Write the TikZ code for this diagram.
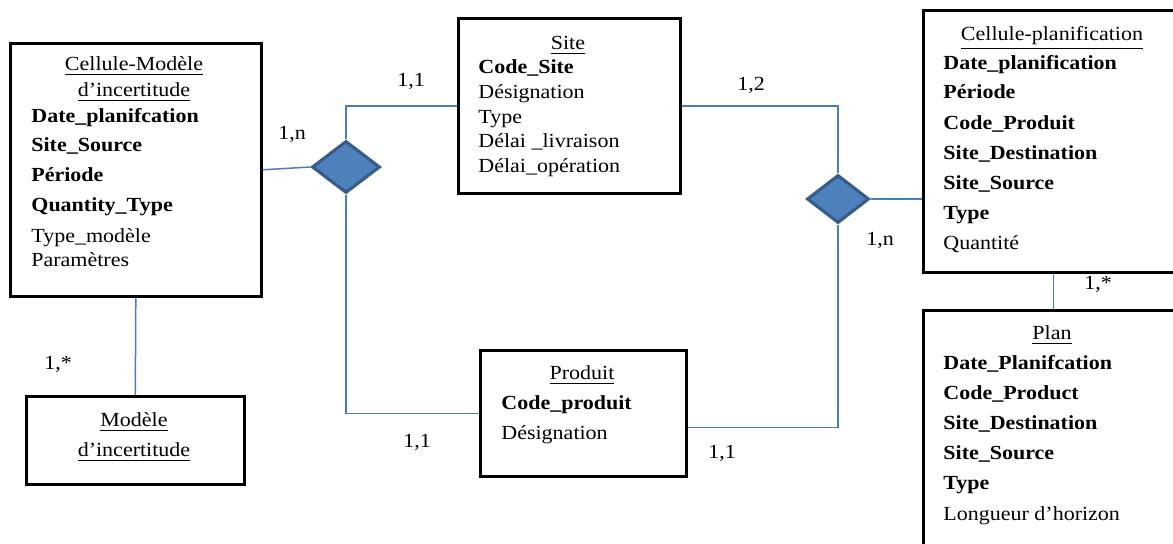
\documentclass[tikz,border=0pt]{standalone}
\usepackage{fontspec}
\setmainfont{Liberation Serif}[FakeStretch=1.1]
\usetikzlibrary{shapes.geometric}
\definecolor{conn}{HTML}{4A7EBB}
\definecolor{dfill}{HTML}{4F81BD}
\definecolor{dline}{HTML}{385D8A}
\tikzset{
  ent/.style={draw=black, line width=1.3pt, rectangle, inner sep=0pt, anchor=north west},
  rel/.style={diamond, draw=dline, fill=dfill, line width=1.6pt, inner sep=0pt},
  lnk/.style={draw=conn, line width=0.75pt},
  txt/.style={inner sep=0pt, anchor=base west, font=\fontsize{10}{12}\selectfont},
  ttl/.style={inner sep=0pt, anchor=base, font=\fontsize{10}{12}\selectfont},
  card/.style={inner sep=0pt, anchor=base, font=\fontsize{10}{12}\selectfont},
}
\begin{document}
\begin{tikzpicture}[x={(0.5pt,0)}, y={(0,-0.5pt)}]
\useasboundingbox (0,0) rectangle (1173,544);
\clip (0,0) rectangle (1173,544);
% entities
\node[ent, minimum width=125.5pt, minimum height=126.5pt] (cm) at (9,42) {};
\node[ent, minimum width=111pt, minimum height=87.5pt] (site) at (457,17) {};
\node[ent, minimum width=130pt, minimum height=131pt] (cp) at (922,9) {};
\node[ent, minimum width=130pt, minimum height=130pt] (plan) at (922,309) {};
\node[ent, minimum width=109pt, minimum height=44pt] (mod) at (25,395) {};
\node[ent, minimum width=103pt, minimum height=63pt] (prod) at (479,349) {};
% relations
\node[rel, minimum width=34pt, minimum height=26pt] (d1) at (346,167) {};
\node[rel, minimum width=31pt, minimum height=24pt] (d2) at (838,199) {};
% connectors
\draw[lnk] (cm.east) -- (d1.west);
\draw[lnk] (d1.north) |- (site.west);
\draw[lnk] (d1.south) |- (prod.west);
\draw[lnk] (site.east) -| (d2.north);
\draw[lnk] (d2.east) -- (d2.east -| cp.west);
\draw[lnk] (d2.south) |- ([yshift=-7pt]prod.east);
\draw[lnk] (cm.south) -- (mod.north);
\draw[lnk] (cp.south) -- (plan.north);
% Cellule-Modele d'incertitude
\node[ttl] (cmt1) at (134,71) {\underline{Cellule-Modèle}};
\node[ttl] (cmt2) at (134,97) {\underline{d’incertitude}};
\node[txt] (cma1) at (31,123) {\textbf{Date\_planifcation}};
\node[txt] (cma2) at (31,152) {\textbf{Site\_Source}};
\node[txt] (cma3) at (31,182) {\textbf{Période}};
\node[txt] (cma4) at (31,212) {\textbf{Quantity\_Type}};
\node[txt] (cma5) at (31,243) {Type\_modèle};
\node[txt] (cma6) at (31,267) {Paramètres};
% Site
\node[ttl] (st) at (568,50) {\underline{Site}};
\node[txt] (sa1) at (478,74) {\textbf{Code\_Site}};
\node[txt] (sa2) at (478,99) {Désignation};
\node[txt] (sa3) at (478,124) {Type};
\node[txt] (sa4) at (478,148) {Délai \_livraison};
\node[txt] (sa5) at (478,173) {Délai\_opération};
% Cellule-planification
\node[ttl] (cpt) at (1052,41) {\underline{Cellule-planification}};
\node[txt] (cpa1) at (943,70) {\textbf{Date\_planification}};
\node[txt] (cpa2) at (943,99) {\textbf{Période}};
\node[txt] (cpa3) at (943,130) {\textbf{Code\_Produit}};
\node[txt] (cpa4) at (943,160) {\textbf{Site\_Destination}};
\node[txt] (cpa5) at (943,190) {\textbf{Site\_Source}};
\node[txt] (cpa6) at (943,220) {\textbf{Type}};
\node[txt] (cpa7) at (943,250) {Quantité};
% Plan
\node[ttl] (pt) at (1052,340) {\underline{Plan}};
\node[txt] (pa1) at (943,370) {\textbf{Date\_Planifcation}};
\node[txt] (pa2) at (943,400) {\textbf{Code\_Product}};
\node[txt] (pa3) at (943,430) {\textbf{Site\_Destination}};
\node[txt] (pa4) at (943,460) {\textbf{Site\_Source}};
\node[txt] (pa5) at (943,490) {\textbf{Type}};
\node[txt] (pa6) at (943,521) {Longueur d’horizon};
% Modele d'incertitude
\node[ttl] (mt1) at (134,427) {\underline{Modèle}};
\node[ttl] (mt2) at (134,457) {\underline{d’incertitude}};
% Produit
\node[ttl] (prt) at (582,380) {\underline{Produit}};
\node[txt] (pra1) at (501,410) {\textbf{Code\_produit}};
\node[txt] (pra2) at (501,440) {Désignation};
% cardinalities
\node[card] (c1) at (292,140) {1,n};
\node[card] (c2) at (411,87) {1,1};
\node[card] (c3) at (751,91) {1,2};
\node[card] (c4) at (880,246) {1,n};
\node[card] (c5) at (1098,290) {1,*};
\node[card] (c6) at (58,370) {1,*};
\node[card] (c7) at (417,448) {1,1};
\node[card] (c8) at (722,459) {1,1};
\end{tikzpicture}
\end{document}
